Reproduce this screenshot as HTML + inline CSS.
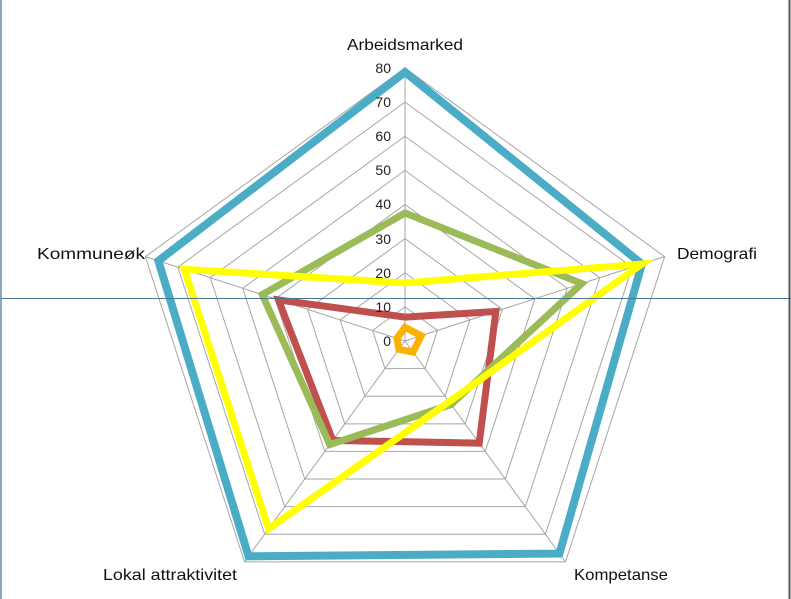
<!DOCTYPE html>
<html><head><meta charset="utf-8"><style>
html,body{margin:0;padding:0;background:#fff;}
svg{display:block;font-family:"Liberation Sans",sans-serif;}
</style></head><body>
<svg width="791" height="599" viewBox="0 0 791 599" xmlns="http://www.w3.org/2000/svg">
<rect width="791" height="599" fill="#fff"/>
<g id="grid" fill="none" stroke="#a6a6a6" stroke-width="1"></g>
<g id="series" fill="none" stroke-linejoin="miter" stroke-width="7"></g>
<g font-size="14" fill="#222" text-anchor="end">
<text x="391" y="73">80</text><text x="391" y="107">70</text><text x="391" y="141">60</text>
<text x="391" y="175">50</text><text x="391" y="209">40</text><text x="391" y="244">30</text>
<text x="391" y="278">20</text><text x="391" y="312">10</text><text x="391" y="346">0</text>
</g>
<g font-size="16" fill="#111">
<text x="405" y="50" text-anchor="middle" textLength="116" lengthAdjust="spacingAndGlyphs">Arbeidsmarked</text>
<text x="677" y="259" textLength="80" lengthAdjust="spacingAndGlyphs">Demografi</text>
<text x="574" y="580" textLength="94" lengthAdjust="spacingAndGlyphs">Kompetanse</text>
<text x="103" y="580" textLength="134" lengthAdjust="spacingAndGlyphs">Lokal attraktivitet</text>
<text x="37" y="259" textLength="108" lengthAdjust="spacingAndGlyphs">Kommuneøk</text>
</g>
<line x1="0" y1="298.5" x2="791" y2="298.5" stroke="#4a7590" stroke-width="1"/>
<line x1="1" y1="0" x2="1" y2="599" stroke="#6a8aa0" stroke-width="1.5"/>
<line x1="789.5" y1="0" x2="789.5" y2="599" stroke="#555" stroke-width="2"/>
<script>
var cx=405,cy=341,R=273,ns="http://www.w3.org/2000/svg";
var ang=[-90,-18,54,126,198].map(a=>a*Math.PI/180);
function pt(v,i){var r=R*v/80;return [cx+r*Math.cos(ang[i]),cy+r*Math.sin(ang[i])];}
var g=document.getElementById('grid');
for(var k=1;k<=8;k++){var p=document.createElementNS(ns,'polygon');
p.setAttribute('points',[0,1,2,3,4].map(i=>pt(k*10,i).join(',')).join(' '));g.appendChild(p);}
for(var i=0;i<5;i++){var l=document.createElementNS(ns,'line');var e=pt(80,i);
l.setAttribute('x1',cx);l.setAttribute('y1',cy);l.setAttribute('x2',e[0]);l.setAttribute('y2',e[1]);g.appendChild(l);}
var S=[["#4bacc6",8,[78.8,73,77,78,76]],["#c0504d",7,[7,28,37,36,39]],["#9bbb59",7,[37.5,54.5,23,37.5,44]],
["#ffff00",7,[17,73,22,68,68]],["#f9b200",7,[4,5,4,3,2.5]]];
var sg=document.getElementById('series');
S.forEach(function(s){var p=document.createElementNS(ns,'polygon');
p.setAttribute('points',s[2].map((v,i)=>pt(v,i).join(',')).join(' '));
p.setAttribute('stroke',s[0]);p.setAttribute('stroke-width',s[1]);sg.appendChild(p);});
</script>
</svg>
</body></html>
